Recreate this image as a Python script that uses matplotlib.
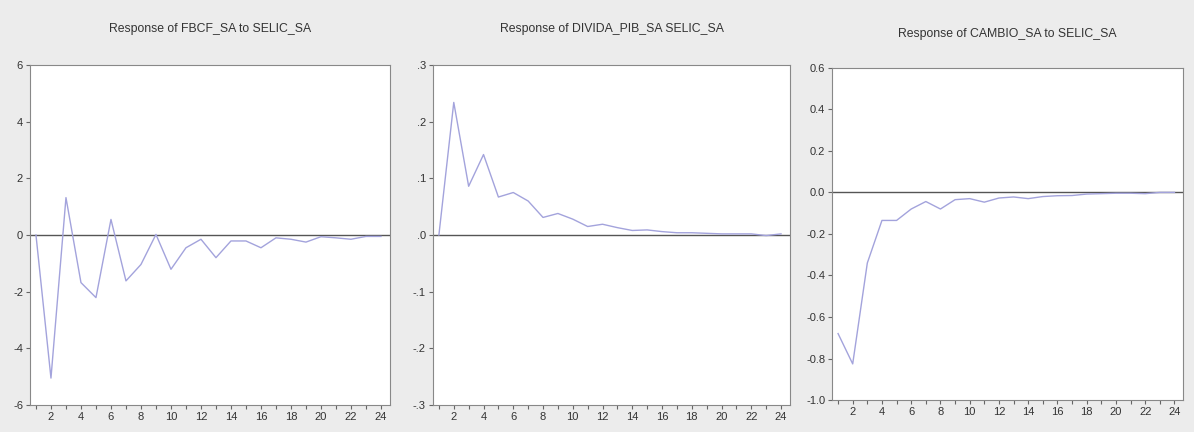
import numpy as np
import matplotlib
matplotlib.use('Agg')
import matplotlib.pyplot as plt
from matplotlib.ticker import FixedLocator, MultipleLocator

# Periodos
periods = list(range(1, 25))

# Respostas ao impulso
fbcf = [0.0, -5.05, 1.32, -1.68, -2.21, 0.55, -1.62, -1.04, 0.02, -1.21,
        -0.45, -0.15, -0.80, -0.21, -0.21, -0.45, -0.10, -0.15, -0.25, -0.06,
        -0.10, -0.15, -0.05, -0.05]
divida = [0.0, 0.234, 0.086, 0.142, 0.067, 0.075, 0.060, 0.031, 0.038, 0.028,
          0.015, 0.019, 0.013, 0.008, 0.009, 0.006, 0.004, 0.004, 0.003, 0.002,
          0.002, 0.002, -0.001, 0.002]
cambio = [-0.68, -0.826, -0.34, -0.135, -0.135, -0.08, -0.044, -0.08, -0.035, -0.03,
          -0.047, -0.027, -0.022, -0.03, -0.02, -0.016, -0.015, -0.008, -0.006, -0.004,
          -0.004, -0.006, 0.0, 0.0]

titles = ['Response of FBCF_SA to SELIC_SA',
          'Response of DIVIDA_PIB_SA SELIC_SA',
          'Response of CAMBIO_SA to SELIC_SA']
yticks = [[6, 4, 2, 0, -2, -4, -6],
          [0.3, 0.2, 0.1, 0.0, -0.1, -0.2, -0.3],
          [0.6, 0.4, 0.2, 0.0, -0.2, -0.4, -0.6, -0.8, -1.0]]
ylabels = [['6', '4', '2', '0', '-2', '-4', '-6'],
           ['.3', '.2', '.1', '.0', '-.1', '-.2', '-.3'],
           ['0.6', '0.4', '0.2', '0.0', '-0.2', '-0.4', '-0.6', '-0.8', '-1.0']]
series = [fbcf, divida, cambio]

plt.rcParams['font.family'] = ['Liberation Sans Narrow', 'Liberation Sans', 'DejaVu Sans']

fig = plt.figure(figsize=(11.94, 4.32), dpi=100, facecolor='#ececec')
positions = [[0.0251, 0.0625, 0.3015, 0.787],
             [0.3626, 0.0625, 0.299, 0.787],
             [0.697, 0.074, 0.294, 0.769]]
title_y = [0.932, 0.932, 0.922]

for i in range(3):
    ax = fig.add_axes(positions[i])
    ax.set_facecolor('white')
    ax.axhline(0, color='#555555', lw=1.0, zorder=1)
    ax.plot(periods, series[i], color='#a3a3dc', lw=1.0, zorder=2)
    ax.set_xlim(0.6, 24.6)
    ax.set_ylim(yticks[i][-1], yticks[i][0])
    ax.xaxis.set_major_locator(FixedLocator(list(range(2, 25, 2))))
    ax.xaxis.set_minor_locator(MultipleLocator(1))
    ax.set_yticks(yticks[i])
    ax.set_yticklabels(ylabels[i])
    ax.tick_params(axis='both', which='major', labelsize=8, color='#666666',
                   length=3, width=0.8, labelcolor='#333333', pad=2)
    ax.tick_params(axis='x', which='minor', color='#666666', length=3, width=0.8)
    for sp in ax.spines.values():
        sp.set_color('#888888')
        sp.set_linewidth(0.8)
    box = positions[i]
    fig.text(box[0] + box[2] / 2, title_y[i], titles[i], ha='center', va='center',
             fontsize=8.8, color='#333333')

plt.savefig('out.png', dpi=100, facecolor=fig.get_facecolor())
